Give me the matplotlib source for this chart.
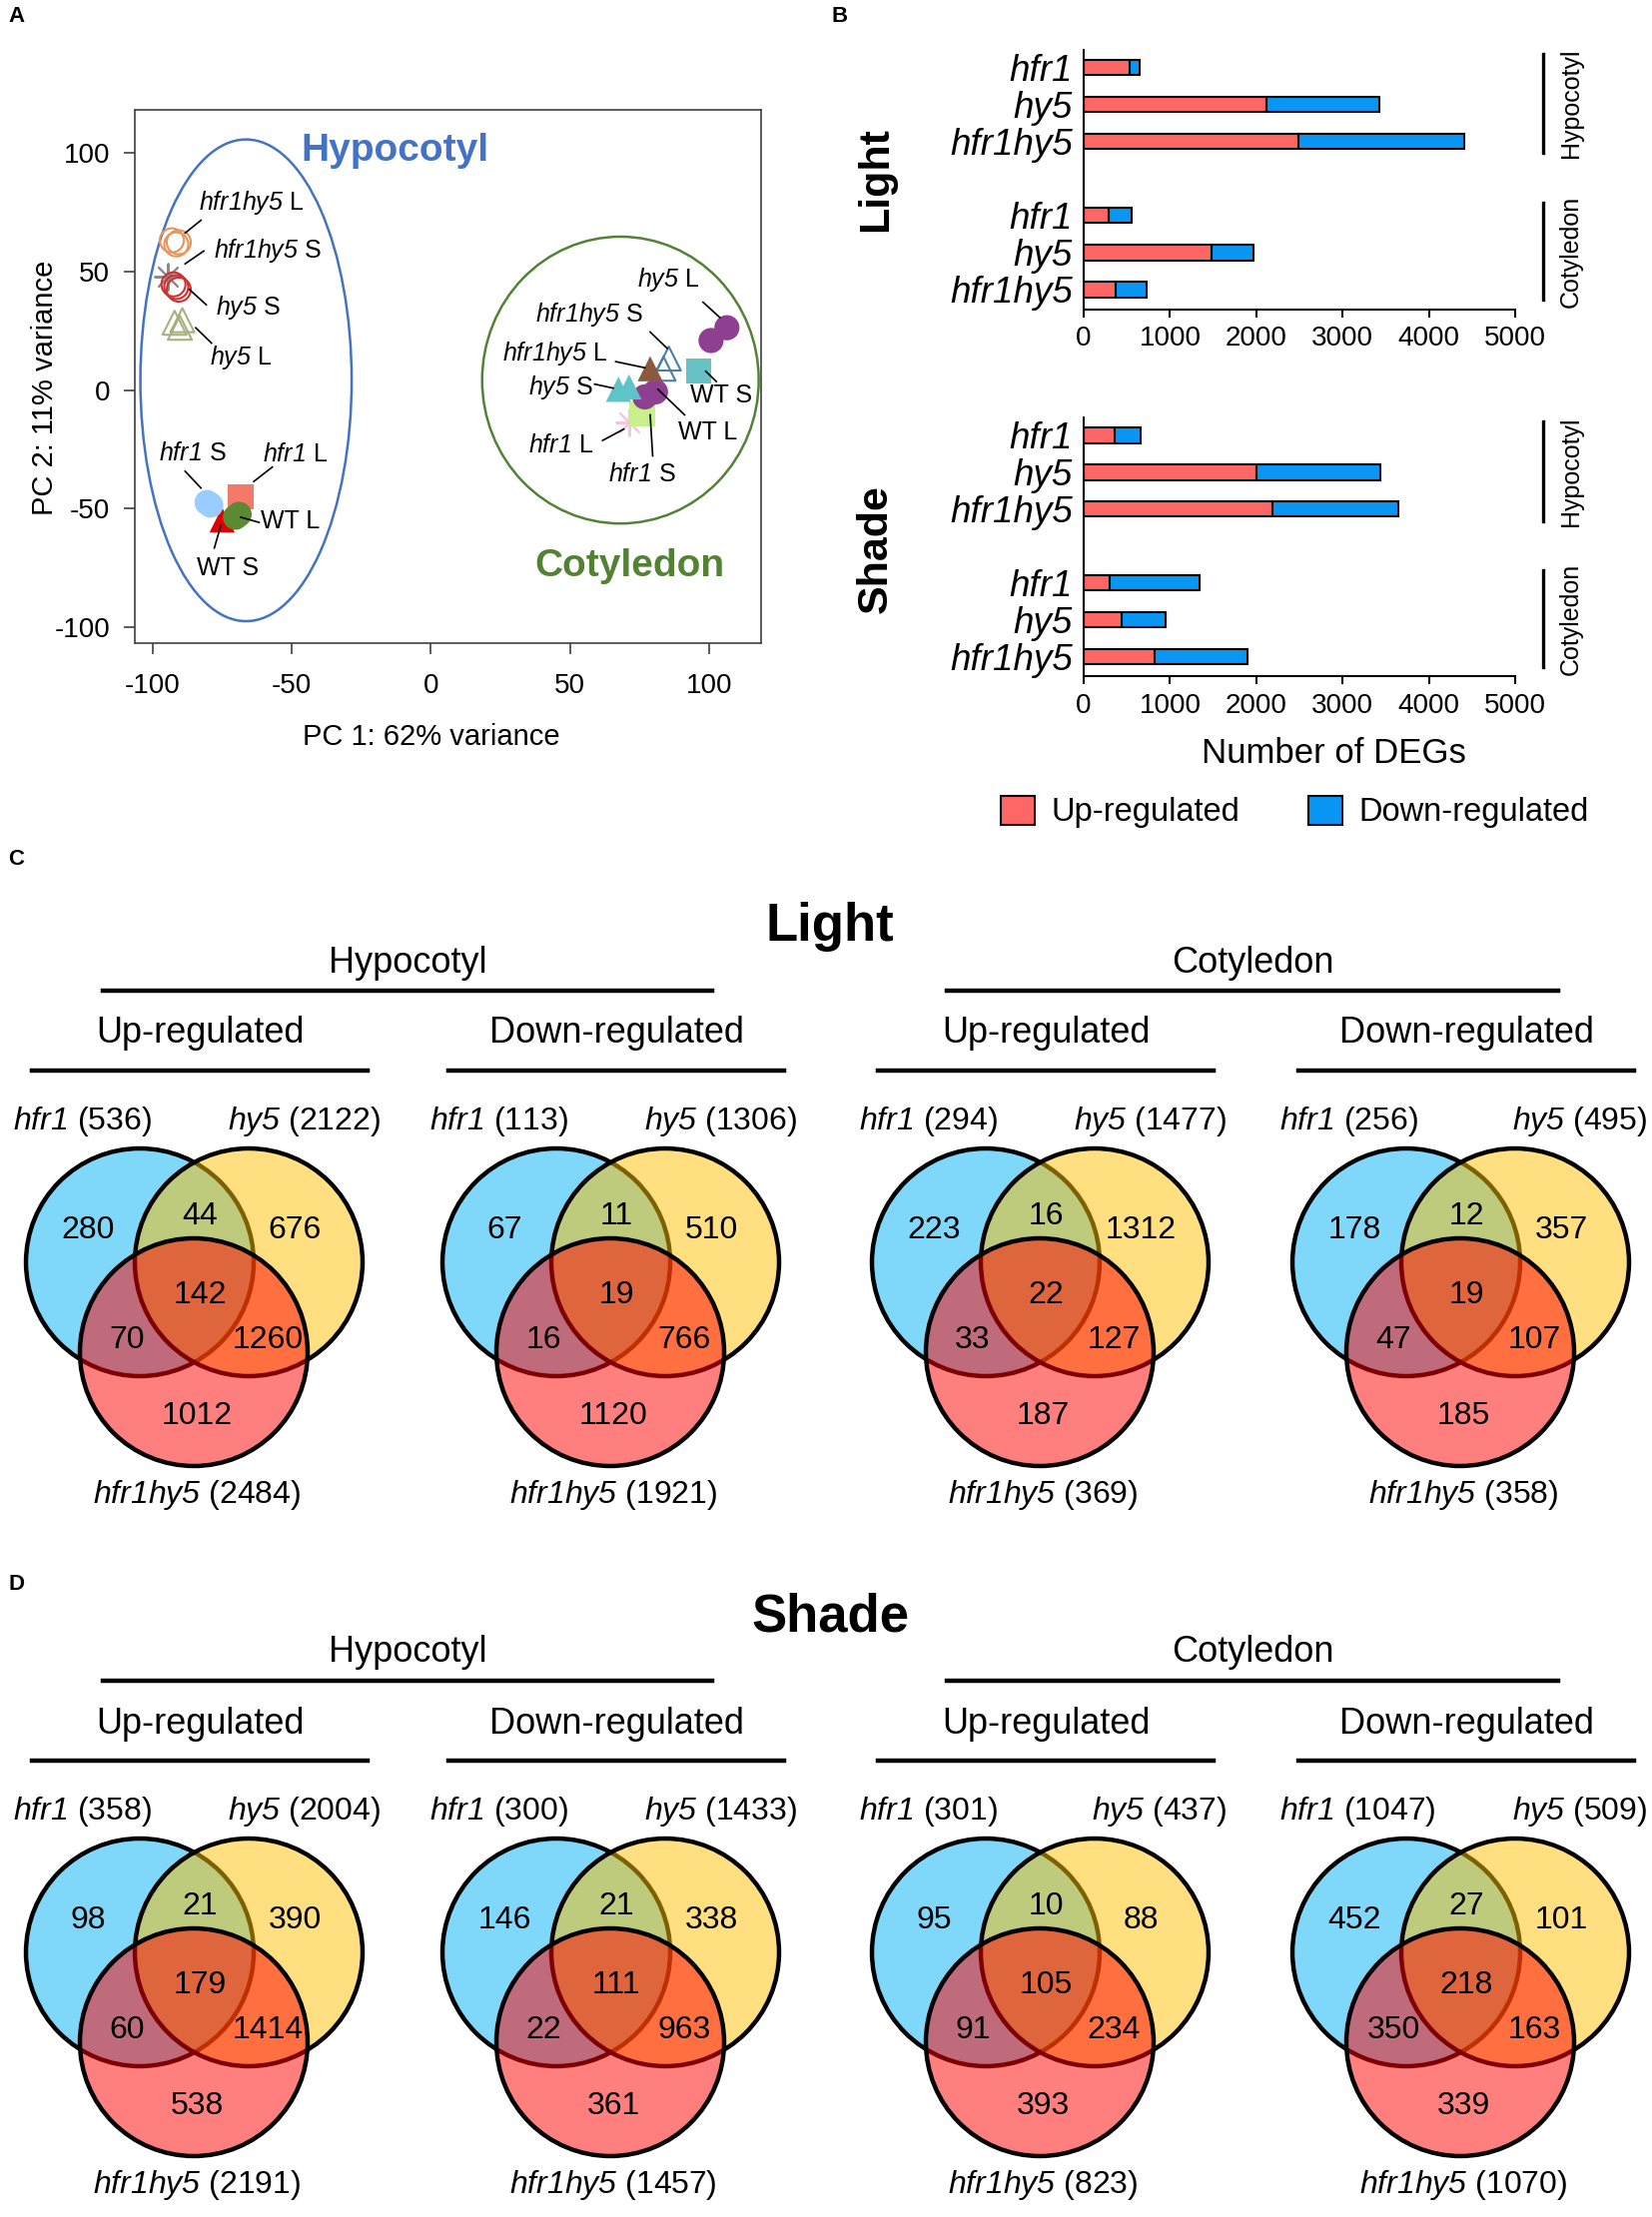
import matplotlib
matplotlib.use('Agg')
import matplotlib.pyplot as plt
from matplotlib.patches import Ellipse, Circle, Patch

plt.rcParams['font.family'] = ['Liberation Sans', 'DejaVu Sans']
plt.rcParams['mathtext.fontset'] = 'custom'
# math parts are only used for gene names -> all italic (digits too)
plt.rcParams['mathtext.rm'] = 'Liberation Sans:italic'
plt.rcParams['mathtext.it'] = 'Liberation Sans:italic'
plt.rcParams['mathtext.bf'] = 'Liberation Sans:bold'
plt.rcParams['axes.unicode_minus'] = False

# ---------------- data ----------------
# PCA (replicates per sample)
pca_samples = ['hfr1hy5 L', 'hfr1hy5 S', 'hy5 S', 'hy5 L', 'WT S', 'hfr1 S', 'hfr1 L', 'WT L',
               'hy5 L', 'hfr1hy5 S', 'hfr1 L', 'hfr1 S', 'WT L', 'hfr1hy5 L', 'WT S', 'hy5 S']
pca_pc1 = [[-93.2, -91.6, -90.7], [-94.5], [-92.6, -90.7, -91.6], [-92.2, -89.4, -90.3],
           [-75.1], [-80.5, -79.2], [-68.4], [-70.3, -69.0],
           [100.8, 106.5], [85.6, 83.7], [71.3], [76.0], [77.0, 80.8], [78.9], [96.4], [67.5, 71.3]]
pca_pc2 = [[63.2, 61.5, 62.4], [47.9], [44.6, 42.4, 43.5], [28.4, 29.5, 26.3],
           [-54.8], [-47.5, -48.6], [-45.1], [-53.7, -52.5],
           [20.9, 26.3], [13.3, 9.0], [-13.7], [-10.0], [-2.9, -0.8], [9.0], [7.9], [0.3, 1.3]]

genotypes = ['hfr1', 'hy5', 'hfr1hy5', 'hfr1', 'hy5', 'hfr1hy5']
light_up = [536, 2122, 2484, 294, 1477, 369]
light_down = [113, 1306, 1921, 256, 495, 358]
shade_up = [358, 2004, 2191, 301, 437, 823]
shade_down = [300, 1433, 1457, 1047, 509, 1070]

# venn regions: hfr1 only, hfr1&hy5, hy5 only, all three, hfr1&dm, hy5&dm, dm only
venn_light = [[280, 44, 676, 142, 70, 1260, 1012],
              [67, 11, 510, 19, 16, 766, 1120],
              [223, 16, 1312, 22, 33, 127, 187],
              [178, 12, 357, 19, 47, 107, 185]]
venn_light_tot = [[536, 2122, 2484], [113, 1306, 1921], [294, 1477, 369], [256, 495, 358]]
venn_shade = [[98, 21, 390, 179, 60, 1414, 538],
              [146, 21, 338, 111, 22, 963, 361],
              [95, 10, 88, 105, 91, 234, 393],
              [452, 27, 101, 218, 350, 163, 339]]
venn_shade_tot = [[358, 2004, 2191], [300, 1433, 1457], [301, 437, 823], [1047, 509, 1070]]
venn_sets = ['hfr1', 'hy5', 'hfr1hy5']
venn_heads = ['Up-regulated', 'Down-regulated', 'Up-regulated', 'Down-regulated']

# ---------------- styles / layout ----------------
pca_style = [('o', '#E8945A', False), ((8, 2, 0), '#8C8C8C', False), ('o', '#D03030', False),
             ('^', '#A8B080', False), ('^', '#E00000', True), ('o', '#99CCFF', True),
             ('s', '#F4796B', True), ('o', '#5B8A32', True),
             ('o', '#8E3F8F', True), ('^', '#4C7FA6', False), ((8, 2, 0), '#F4C6E0', False),
             ('s', '#C8F08C', True), ('o', '#8E3F8F', True), ('^', '#8B5A3C', True),
             ('s', '#66C2C4', True), ('^', '#5EC4C8', True)]
# label text position, leader line start, leader line end
pca_lab = [((-64.6, 79.2), (-82.7, 71.7), (-88.4, 66.3)),
           ((-58.9, 58.7), (-81.7, 58.7), (-88.4, 53.3)),
           ((-65.6, 34.9), (-80.8, 36.0), (-86.9, 42.5)),
           ((-68.4, 13.9), (-78.9, 19.8), (-84.6, 26.3)),
           ((-73.2, -75.4), (-77.9, -66.7), (-75.5, -57.0)),
           ((-85.6, -26.7), (-88.4, -34.3), (-82.7, -41.4)),
           ((-48.9, -27.1), (-57.0, -32.5), (-63.7, -38.6)),
           ((-50.4, -55.5), (-61.8, -55.9), (-68.4, -53.7)),
           ((85.6, 46.8), (97.9, 37.1), (104.0, 30.6)),
           ((57.0, 31.7), (78.9, 24.5), (85.0, 17.6)),
           ((46.6, -23.5), (61.8, -21.3), (69.4, -16.5)),
           ((76.0, -35.4), (79.8, -27.8), (78.9, -10.5)),
           ((99.8, -18.0), (91.3, -10.5), (81.7, 0.3)),
           ((44.7, 15.5), (66.5, 12.0), (77.0, 9.4)),
           ((104.6, -2.5), (98.9, 7.9), (102.7, 3.6)),
           ((46.6, 1.0), (58.9, 2.5), (65.6, 0.8))]

up_col = '#FF6666'
down_col = '#0A96F5'
venn_cols = [(0.0, 0.694, 0.961, 0.5), (1.0, 0.757, 0.0, 0.5), (1.0, 0.0, 0.0, 0.5)]


def fmt(name):
    g, c = name.split()
    if g == 'WT':
        return name
    return r'$' + g + '$ ' + c


W, H = 1654, 2220
fig = plt.figure(figsize=(W / 100, H / 100), dpi=100)

# ---------------- A: PCA ----------------
ax = fig.add_axes([135 / W, 1 - 643.6 / H, 627 / W, 533.6 / H])
ax.set_xlim(-106.5, 118.8)
ax.set_ylim(-106.7, 118.3)
for s in ax.spines.values():
    s.set_color('#404040')
    s.set_linewidth(1.2)
ax.set_xticks([-100, -50, 0, 50, 100])
ax.set_yticks([-100, -50, 0, 50, 100])
ax.tick_params(axis='both', length=8, width=1.2, color='#404040', labelsize=20)
ax.tick_params(axis='x', pad=14)
ax.tick_params(axis='y', pad=10)
ax.add_patch(Ellipse((-66.5, 4.1), 76, 203.4, fill=False, ec='#4472C4', lw=1.8))
ax.add_patch(Ellipse((68.2, 4.2), 99.5, 121.1, fill=False, ec='#548235', lw=1.8))
for i, name in enumerate(pca_samples):
    m, c, filled = pca_style[i]
    if filled:
        ax.scatter(pca_pc1[i], pca_pc2[i], marker=m, s=330, color=c, edgecolors='none', zorder=3)
    elif isinstance(m, tuple):
        ax.scatter(pca_pc1[i], pca_pc2[i], marker=m, s=360, color=c, linewidths=1.5, zorder=3)
    else:
        ax.scatter(pca_pc1[i], pca_pc2[i], marker=m, s=300, facecolors='none', edgecolors=c,
                   linewidths=1.5, zorder=3)
    (tx, ty), (x1, y1), (x2, y2) = pca_lab[i]
    ax.text(tx, ty, fmt(name), fontsize=18, ha='center', va='center', zorder=4)
    ax.plot([x1, x2], [y1, y2], color='black', lw=1.2, zorder=4)
ax.text(-13, 100.9, 'Hypocotyl', color='#4472C4', fontsize=28, fontweight='bold',
        ha='center', va='center')
ax.text(71.5, -74.3, 'Cotyledon', color='#548235', fontsize=28, fontweight='bold',
        ha='center', va='center')
fig.text(432 / W, 1 - 738 / H, 'PC 1: 62% variance', fontsize=21, ha='center', va='center')
fig.text(45 / W, 1 - 388 / H, 'PC 2: 11% variance', fontsize=21, ha='center', va='center',
         rotation=90)

# ---------------- B: bar charts ----------------
bar_pos = [0, 1, 2, 4, 5, 6]


def bar_panel(rect, up, down, title, ty):
    axb = fig.add_axes(rect)
    axb.barh(bar_pos, up, height=0.42, color=up_col, edgecolor='black', lw=1.5)
    axb.barh(bar_pos, down, left=up, height=0.42, color=down_col, edgecolor='black', lw=1.5)
    axb.set_xlim(0, 5000)
    axb.set_ylim(6.53, -0.47)
    axb.set_xticks([0, 1000, 2000, 3000, 4000, 5000])
    axb.set_yticks(bar_pos)
    axb.set_yticklabels(genotypes, fontsize=26.5, fontstyle='italic')
    axb.tick_params(axis='y', length=0, pad=8)
    axb.tick_params(axis='x', length=6, width=1.5, labelsize=20, pad=6)
    axb.spines['top'].set_visible(False)
    axb.spines['right'].set_visible(False)
    axb.spines['left'].set_linewidth(1.5)
    axb.spines['bottom'].set_linewidth(1.5)
    tr = axb.get_yaxis_transform()
    for (y1, y2), lab in zip([(-0.37, 2.32), (3.66, 6.28)], ['Hypocotyl', 'Cotyledon']):
        axb.plot([1.065, 1.065], [y1, y2], transform=tr, color='black', lw=2.4, clip_on=False)
        axb.text(1.13, (y1 + y2) / 2, lab, transform=tr, rotation=90, fontsize=18,
                 ha='center', va='center')
    fig.text(877 / W, 1 - ty / H, title, fontsize=31, fontweight='bold', rotation=90,
             ha='center', va='center')
    return axb


bar_panel([1085 / W, 1 - 309.5 / H, 432 / W, 259.5 / H], light_up, light_down, 'Light', 180)
bar_panel([1085 / W, 1 - 677 / H, 432 / W, 258.5 / H], shade_up, shade_down, 'Shade', 550)
fig.text(1335 / W, 1 - 755 / H, 'Number of DEGs', fontsize=25, ha='center', va='center')
fig.legend(handles=[Patch(fc=up_col, ec='black', lw=1.5, label='Up-regulated'),
                    Patch(fc=down_col, ec='black', lw=1.5, label='Down-regulated')],
           loc='center', bbox_to_anchor=(1296 / W, 1 - 813 / H), ncol=2, frameon=False,
           fontsize=23.5, handlelength=1.05, handleheight=1.0, handletextpad=0.5,
           columnspacing=2.1)

# ---------------- C / D: Venn diagrams ----------------
av = fig.add_axes([0, 0, 1, 1])
av.set_xlim(0, W)
av.set_ylim(H, 0)
av.axis('off')

venn_x0 = [26, 443, 873, 1294]
num_off = [(62, 82), (174, 68), (269, 82), (174, 147), (101, 192), (242, 192), (171, 268)]


def draw_venn(x0, y0, counts, totals, head):
    r = 114
    centers = [(x0 + 114, y0 + 114), (x0 + 223, y0 + 114), (x0 + 168, y0 + 204)]
    for (cx, cy), col in zip(centers, venn_cols):
        av.add_patch(Circle((cx, cy), r, facecolor=col, edgecolor='black', lw=3.2))
    for v, (dx, dy) in zip(counts, num_off):
        av.text(x0 + dx, y0 + dy, str(v), fontsize=23, ha='center', va='center')
    av.text(x0 - 13, y0 - 27, r'$%s$ (%d)' % (venn_sets[0], totals[0]),
            fontsize=23, ha='left', va='center')
    av.text(x0 + 355, y0 - 27, r'$%s$ (%d)' % (venn_sets[1], totals[1]),
            fontsize=23, ha='right', va='center')
    av.text(x0 + 171, y0 + 347, r'$%s$ (%d)' % (venn_sets[2], totals[2]),
            fontsize=23, ha='center', va='center')
    av.text(x0 + 174, y0 - 115, head, fontsize=26, ha='center', va='center')
    av.plot([x0 + 6, x0 + 342], [y0 - 78, y0 - 78], color='black', lw=3.2)


def venn_row(y0, data, totals, title):
    for k in range(4):
        draw_venn(venn_x0[k], y0, data[k], totals[k], venn_heads[k])
    for (a, b), lab in zip([(103, 713), (948, 1560)], ['Hypocotyl', 'Cotyledon']):
        av.text((a + b) / 2, y0 - 186, lab, fontsize=26, ha='center', va='center')
        av.plot([a, b], [y0 - 158, y0 - 158], color='black', lw=3.2)
    av.text(831, y0 - 222, title, fontsize=38, fontweight='bold', ha='center', va='center')


venn_row(1150, venn_light, venn_light_tot, 'Light')
venn_row(1841, venn_shade, venn_shade_tot, 'Shade')

for lab, x, y in [('A', 8, 16), ('B', 833, 16), ('C', 8, 861), ('D', 8, 1587)]:
    av.text(x, y, lab, fontsize=16, fontweight='bold', ha='left', va='center')

fig.savefig('out.png', dpi=100)
